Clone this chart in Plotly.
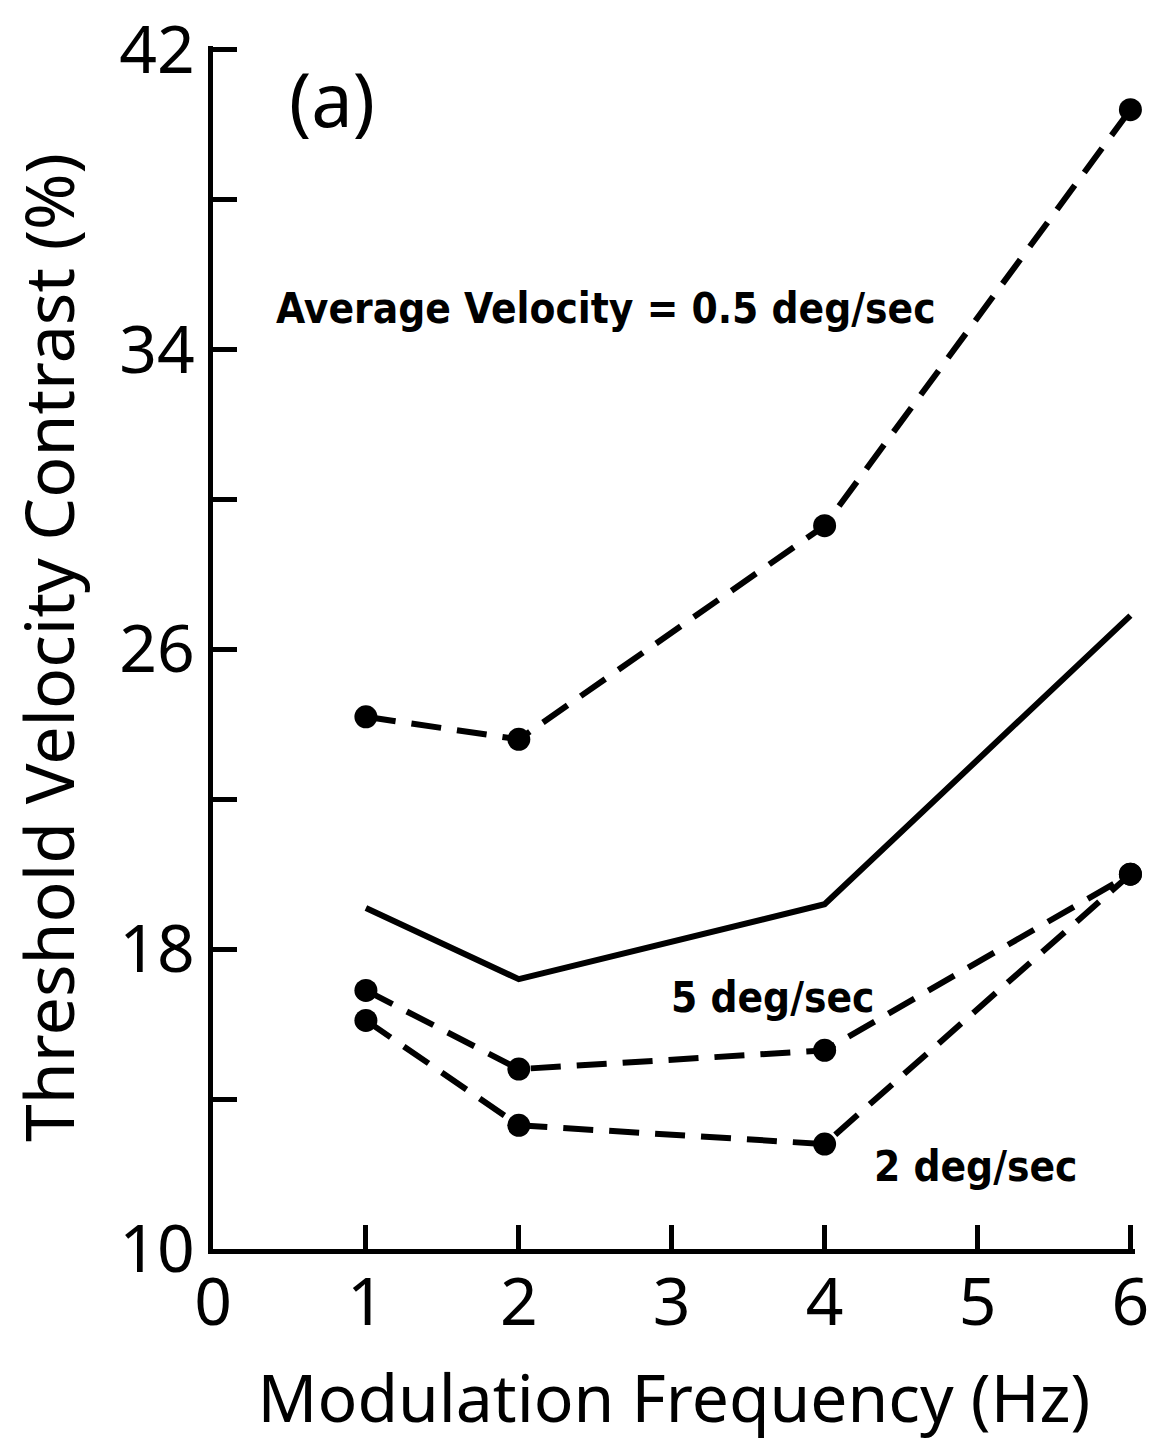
import plotly.graph_objects as go

freq = [1, 2, 4, 6]
avg_05 = [24.2, 23.6, 29.3, 40.4]
solid_mean = [19.1, 17.2, 19.2, 26.9]
vel_5 = [16.9, 14.8, 15.3, 20.0]
vel_2 = [16.1, 13.3, 12.8, 20.0]

y_ticks = [10, 14, 18, 22, 26, 30, 34, 38, 42]
y_ticktext = ["10", "", "18", "", "26", "", "34", "", "42"]
x_ticks = [0, 1, 2, 3, 4, 5, 6]
x_ticktext = ["0", "1", "2", "3", "4", "5", "6"]

LW = 6
AXW = 5
dash = "30px,16px"

fig = go.Figure()
fig.add_trace(go.Scatter(x=freq, y=avg_05, mode="lines+markers", name="0.5 deg/sec",
                         line=dict(color="black", width=LW, dash=dash),
                         marker=dict(color="black", size=23), cliponaxis=False))
fig.add_trace(go.Scatter(x=freq, y=solid_mean, mode="lines", name="mean",
                         line=dict(color="black", width=LW), cliponaxis=False))
fig.add_trace(go.Scatter(x=freq, y=vel_5, mode="lines+markers", name="5 deg/sec",
                         line=dict(color="black", width=LW, dash=dash),
                         marker=dict(color="black", size=23), cliponaxis=False))
fig.add_trace(go.Scatter(x=freq, y=vel_2, mode="lines+markers", name="2 deg/sec",
                         line=dict(color="black", width=LW, dash=dash),
                         marker=dict(color="black", size=23), cliponaxis=False))

tick_font = dict(family="Noto Sans", size=66, color="black", weight=400)
xtitle_font = dict(family="Noto Sans", size=66, color="black", weight=400)
ytitle_font = dict(family="Noto Sans", size=68, color="black", weight=400)
ann_font = dict(family="DejaVu Sans Condensed", size=42, color="black", weight="bold")

fig.update_layout(
    width=1157, height=1441,
    margin=dict(l=213, r=22, t=46, b=192),
    paper_bgcolor="white", plot_bgcolor="white",
    showlegend=False,
    xaxis=dict(range=[0, 6.03], tickvals=x_ticks, ticktext=x_ticktext,
               showline=True, linecolor="black", linewidth=AXW,
               ticks="inside", ticklen=24, tickwidth=AXW, tickcolor="black",
               showgrid=False, zeroline=False, tickfont=tick_font,
               ticklabeloverflow="allow", ticklabelstandoff=-8,
               title=dict(text="Modulation Frequency (Hz)", font=xtitle_font, standoff=36),
               automargin=False),
    yaxis=dict(range=[10, 42.1], tickvals=y_ticks, ticktext=y_ticktext,
               showline=True, linecolor="black", linewidth=AXW,
               ticks="inside", ticklen=24, tickwidth=AXW, tickcolor="black",
               showgrid=False, zeroline=False, tickfont=tick_font,
               ticklabeloverflow="allow",
               title=dict(text="Threshold Velocity Contrast (%)", font=ytitle_font, standoff=24),
               automargin=False),
    annotations=[
        dict(text="(a)", x=0.78, y=40.7, xref="x", yref="y", showarrow=False,
             font=dict(family="Noto Sans", size=74, color="black", weight=400)),
        dict(text="Average Velocity = 0.5 deg/sec", x=2.57, y=35.1, xref="x", yref="y",
             showarrow=False, font=ann_font),
        dict(text="5 deg/sec", x=3.66, y=16.7, xref="x", yref="y", showarrow=False,
             font=ann_font),
        dict(text="2 deg/sec", x=4.99, y=12.2, xref="x", yref="y", showarrow=False,
             font=ann_font),
    ],
)

fig.write_html("out.html")
